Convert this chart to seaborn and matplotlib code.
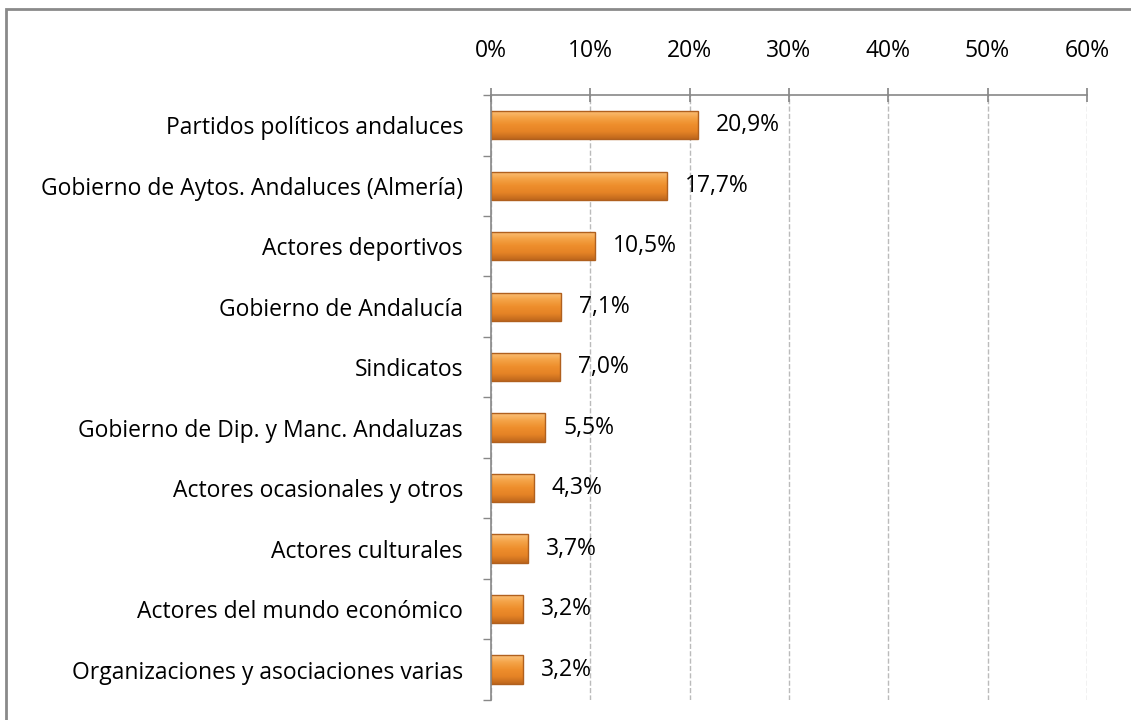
import matplotlib
matplotlib.use("Agg")
import matplotlib.pyplot as plt
import seaborn as sns
import pandas as pd
import numpy as np
from matplotlib.patches import Rectangle
from matplotlib.colors import LinearSegmentedColormap
from matplotlib.ticker import FixedLocator, PercentFormatter

categories = [
    "Partidos políticos andaluces",
    "Gobierno de Aytos. Andaluces (Almería)",
    "Actores deportivos",
    "Gobierno de Andalucía",
    "Sindicatos",
    "Gobierno de Dip. y Manc. Andaluzas",
    "Actores ocasionales y otros",
    "Actores culturales",
    "Actores del mundo económico",
    "Organizaciones y asociaciones varias",
]
values = [20.9, 17.7, 10.5, 7.1, 7.0, 5.5, 4.3, 3.7, 3.2, 3.2]
x_ticks = [0, 10, 20, 30, 40, 50, 60]

sns.set_theme(style="white")
plt.rcParams["font.family"] = ["Open Sans", "DejaVu Sans"]

df = pd.DataFrame({"cat": categories, "val": values})

fig = plt.figure(figsize=(11.31, 7.2), dpi=100)
ax = fig.add_axes([0.434, 0.028, 0.527, 0.840])

sns.barplot(data=df, y="cat", x="val", orient="h", color="#EE8E2C",
            width=0.47, edgecolor="#B0601E", linewidth=1.0, ax=ax, saturation=1)

ax.set_xlim(0, 60)
ax.set_ylim(len(categories) - 0.5, -0.5)

# vertical gradient on each bar (styling only, clipped to the bar patch)
cmap = LinearSegmentedColormap.from_list(
    "bar", ["#FBC27C", "#F5A448", "#EE8E2C", "#E58326", "#BE661C"])
grad = np.linspace(1, 0, 64).reshape(-1, 1)
for p in list(ax.patches):
    x0, y0 = p.get_x(), p.get_y()
    w, h = p.get_width(), p.get_height()
    im = ax.imshow(grad, cmap=cmap, aspect="auto", interpolation="bicubic",
                   extent=[x0, x0 + w, y0, y0 + h], origin="upper", zorder=p.get_zorder())
    im.set_clip_path(p)
    p.set_facecolor("none")
    p.set_zorder(p.get_zorder() + 0.1)
ax.set_xlim(0, 60)
ax.set_ylim(len(categories) - 0.5, -0.5)
ax.set_aspect("auto")

ax.xaxis.set_major_locator(FixedLocator(x_ticks))
ax.xaxis.set_major_formatter(PercentFormatter(decimals=0))
ax.xaxis.tick_top()
ax.tick_params(axis="x", which="major", direction="inout", length=10, color="#888888",
               labelsize=16.5, labelcolor="black", pad=18, top=True, bottom=False)
ax.grid(axis="x", color="#BBBBBB", linestyle="--", linewidth=1)
ax.set_axisbelow(True)

ax.tick_params(axis="y", which="major", length=0, labelsize=16.5, labelcolor="black", pad=20)
ax.yaxis.set_minor_locator(FixedLocator([i - 0.5 for i in range(len(categories) + 1)]))
ax.tick_params(axis="y", which="minor", length=6, color="#888888", left=True)

ax.set_xlabel("")
ax.set_ylabel("")
for side in ["right", "bottom"]:
    ax.spines[side].set_visible(False)
for side in ["left", "top"]:
    ax.spines[side].set_color("#888888")
    ax.spines[side].set_linewidth(1.2)

for i, v in enumerate(values):
    ax.text(v + 1.8, i, f"{v:.1f}%".replace(".", ","), va="center", ha="left",
            fontsize=16.5, color="black")

fig.patches.append(Rectangle((6 / 1131, -0.1), 1.2, 1.1 - 9 / 720, transform=fig.transFigure,
                             fill=False, edgecolor="#8A8A8A", linewidth=2))

fig.savefig("out.png", dpi=100)
